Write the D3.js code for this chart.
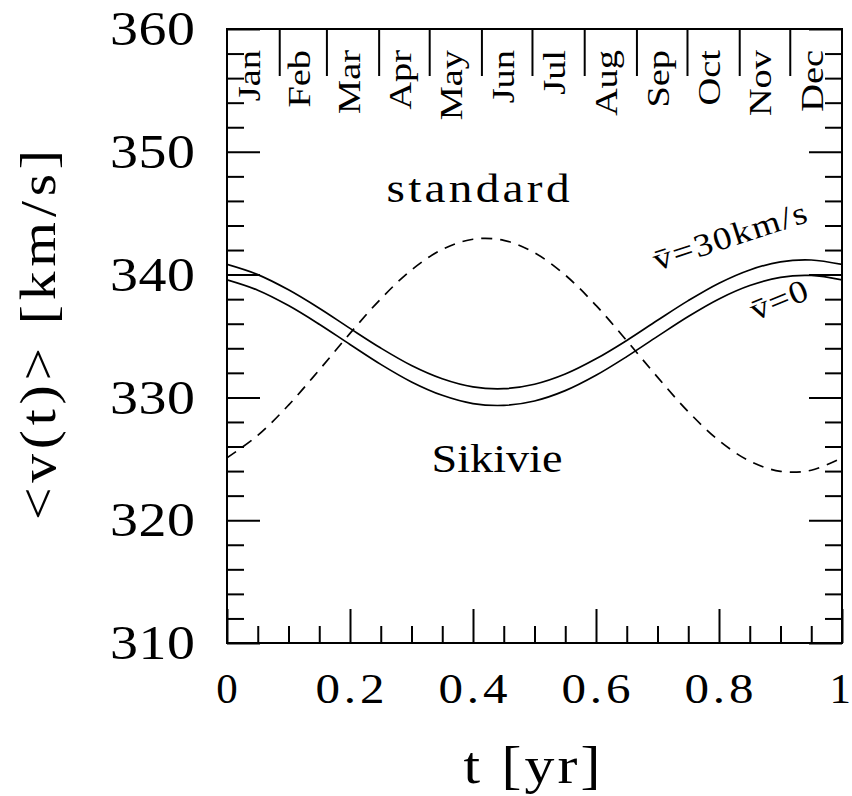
<!DOCTYPE html>
<html><head><meta charset="utf-8">
<script src="https://cdn.jsdelivr.net/npm/d3@7"></script>
<style>
body{margin:0;background:#fff}
svg{display:block}
text{font-family:"Liberation Serif","Times New Roman",serif;fill:#000}
</style>
</head><body>
<svg id="chart" width="852" height="796"></svg>
<script>
// ---------- data ----------
const tYears = [0,0.05,0.10,0.15,0.20,0.25,0.30,0.35,0.40,0.45,0.50,0.55,0.60,0.65,0.70,0.75,0.80,0.85,0.90,0.95,1.00];
const vBar30 = [340.83,340.00,338.76,337.26,335.62,334.02,332.60,331.52,330.86,330.71,331.07,331.90,333.14,334.64,336.28,337.88,339.30,340.38,341.04,341.19,340.83];
const vBar0  = [339.57,338.73,337.48,335.96,334.31,332.69,331.26,330.17,329.50,329.35,329.71,330.55,331.80,333.32,334.97,336.59,338.02,339.11,339.78,339.93,339.57];
const vSikivie = [325.08,326.90,329.37,332.24,335.21,338.02,340.38,342.05,342.88,342.79,341.78,339.96,337.49,334.62,331.65,328.84,326.48,324.81,323.98,324.07,325.08];
const yMajorTicks = [310,320,330,340,350,360];
const yTickLabels = ["310","320","330","340","350","360"];
const xMajorTicks = [0,0.2,0.4,0.6,0.8,1];
const xTickLabels = ["0","0.2","0.4","0.6","0.8","1"];
const monthNames = ["Jan","Feb","Mar","Apr","May","Jun","Jul","Aug","Sep","Oct","Nov","Dec"];
const monthStartDay = [0,31,59,90,120,151,181,212,243,273,304,334,365];
const daysInYear = 365;
const xTitle = "t [yr]";
const yTitle = "<v(t)> [km/s]";
const labelStandard = "standard";
const labelSikivie = "Sikivie";
const labelBar30 = "v\u0304=30km/s";
const labelBar0 = "v\u0304=0";

// ---------- layout ----------
const W = 852;
const svg = d3.select("#chart");
const L = 227, R = 842, T = 29, B = 643;
const x = d3.scaleLinear().domain([0,1]).range([L,R]);
const y = d3.scaleLinear().domain([310,360]).range([B,T]);
const xDay = d3.scaleLinear().domain([0,daysInYear]).range([L,R]);

function styleAxis(g){
  g.select(".domain").remove();
  g.selectAll("line").attr("stroke","#000").attr("stroke-width",2);
}
const yMinor = d3.range(310,360.01,2).filter(v=>v%10!==0);
const xMinor = d3.range(0,1.0001,0.05).map(v=>+v.toFixed(2)).filter(v=>Math.abs(v*5-Math.round(v*5))>1e-6);

svg.append("g").attr("transform",`translate(${L},0)`).call(d3.axisLeft(y).tickValues(yMajorTicks).tickSize(-33).tickFormat("")).call(styleAxis);
svg.append("g").attr("transform",`translate(${L},0)`).call(d3.axisLeft(y).tickValues(yMinor).tickSize(-17).tickFormat("")).call(styleAxis);
svg.append("g").attr("transform",`translate(${R},0)`).call(d3.axisRight(y).tickValues(yMajorTicks).tickSize(-33).tickFormat("")).call(styleAxis);
svg.append("g").attr("transform",`translate(${R},0)`).call(d3.axisRight(y).tickValues(yMinor).tickSize(-17).tickFormat("")).call(styleAxis);
svg.append("g").attr("transform",`translate(0,${B})`).call(d3.axisBottom(x).tickValues(xMajorTicks).tickSize(-34).tickFormat("")).call(styleAxis);
svg.append("g").attr("transform",`translate(0,${B})`).call(d3.axisBottom(x).tickValues(xMinor).tickSize(-17).tickFormat("")).call(styleAxis);
svg.append("g").attr("transform",`translate(0,${T})`).call(d3.axisTop(xDay).tickValues(monthStartDay.slice(1,-1)).tickSize(-47).tickFormat("")).call(styleAxis);

svg.append("rect").attr("x",L).attr("y",T).attr("width",R-L).attr("height",B-T)
  .attr("fill","none").attr("stroke","#000").attr("stroke-width",2);

// place text at (px,py) with rotation, widened to a target length:
// glyphs stretched horizontally (up to maxS) and the rest taken up as spacing
function placeText(sel, px, py, rot, target, maxS){
  const node = sel.node();
  const nat = node.getComputedTextLength();
  let s = 1;
  if (target && nat > 0){
    s = Math.min(maxS, target/nat);
    const local = target/s;
    if (node.textContent.length > 1 && local > nat+0.5) sel.attr("textLength",local).attr("lengthAdjust","spacing");
  } else if (maxS) { s = maxS; }
  sel.attr("transform",`translate(${px},${py}) rotate(${rot}) scale(${s},1)`);
  return sel;
}

// month labels
monthNames.forEach((m,i)=>{
  const t = svg.append("text").attr("text-anchor","end").attr("font-size",32).text(m);
  placeText(t, xDay((monthStartDay[i]+monthStartDay[i+1])/2)+7, 50, -90, null, 1.2);
});

// tick labels
yMajorTicks.forEach((v,i)=>{
  const t = svg.append("text").attr("text-anchor","end").attr("font-size",49).attr("dy","0.33em").text(yTickLabels[i]);
  placeText(t, 195, y(v), 0, 85, 1.14);
});
xMajorTicks.forEach((v,i)=>{
  const lab = xTickLabels[i];
  const t = svg.append("text").attr("text-anchor","middle").attr("font-size",43).text(lab);
  const half = t.node().getComputedTextLength()/2;
  const px = Math.min(x(v), W - half - 1);
  placeText(t, px, 703, 0, lab.length>1 ? 69 : null, lab.length>1 ? 1.14 : 1);
});

// axis titles
placeText(svg.append("text").attr("text-anchor","middle").attr("font-size",52).text(xTitle), 532, 783, 0, 137, 1.15);
placeText(svg.append("text").attr("text-anchor","middle").attr("font-size",50).text(yTitle), 55, 335, -90, 370, 1.15);

// curves
const line = d3.line().x((d,i)=>x(tYears[i])).y(d=>y(d)).curve(d3.curveCatmullRom.alpha(0.5));
svg.append("clipPath").attr("id","plotclip").append("rect").attr("x",L).attr("y",T).attr("width",R-L).attr("height",B-T);
const curves = svg.append("g").attr("clip-path","url(#plotclip)");
curves.append("path").datum(vBar30).attr("d",line).attr("fill","none").attr("stroke","#000").attr("stroke-width",1.7);
curves.append("path").datum(vBar0).attr("d",line).attr("fill","none").attr("stroke","#000").attr("stroke-width",1.7);
curves.append("path").datum(vSikivie).attr("d",line).attr("fill","none").attr("stroke","#000").attr("stroke-width",1.7).attr("stroke-dasharray","11,8");

// annotations
placeText(svg.append("text").attr("text-anchor","middle").attr("font-size",40).text(labelStandard), 478, 202, 0, 183, 1.18);
placeText(svg.append("text").attr("text-anchor","middle").attr("font-size",40).text(labelSikivie), 497, 472, 0, 131, 1.18);
placeText(svg.append("text").attr("text-anchor","start").attr("font-size",32).text(labelBar30), 657, 271, -18, 160, 1.15);
placeText(svg.append("text").attr("text-anchor","start").attr("font-size",32).text(labelBar0), 755, 321, -22, 60, 1.15);
</script>
</body></html>
